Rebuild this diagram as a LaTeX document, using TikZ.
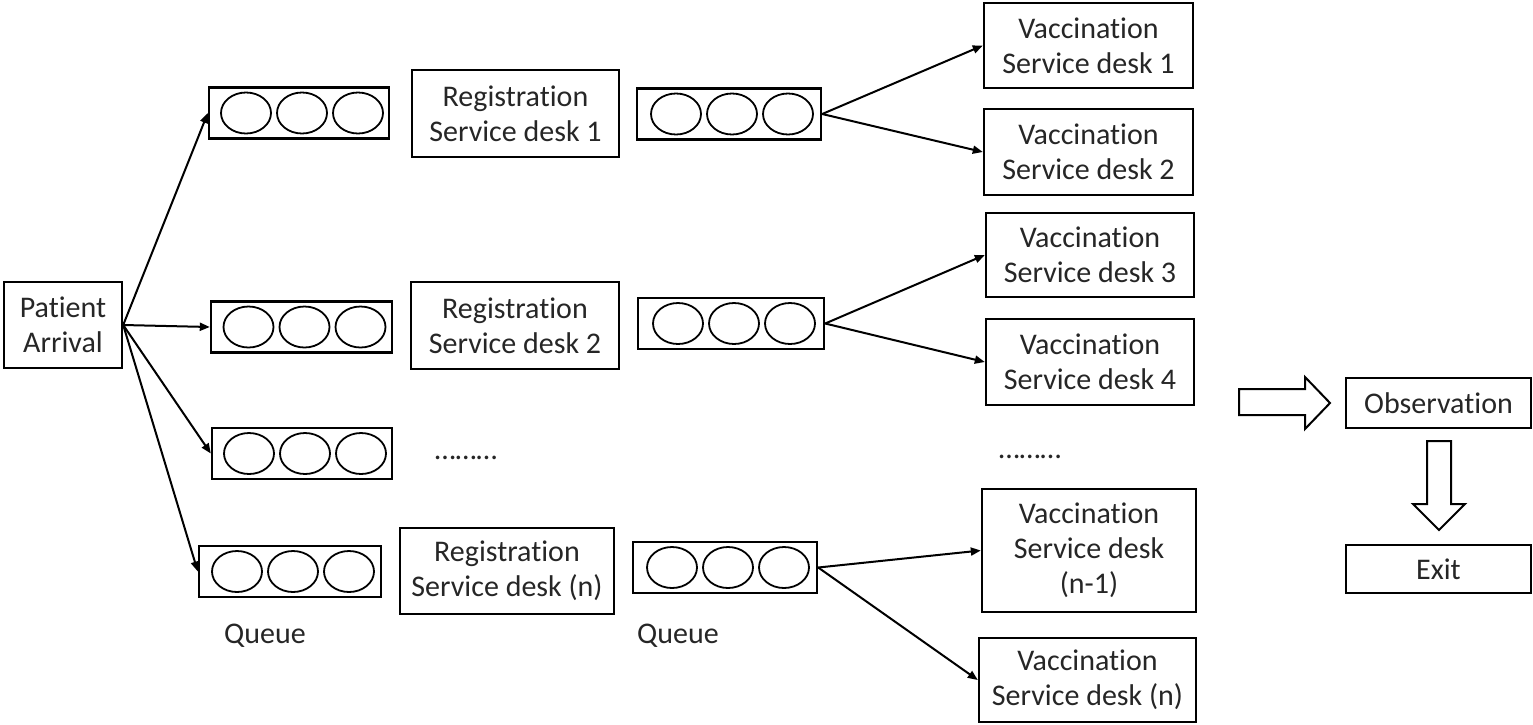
\documentclass[tikz,border=0pt]{standalone}
\usepackage{fontspec}
\setmainfont{Carlito}[Ligatures={NoCommon}]
\usetikzlibrary{arrows.meta}
\begin{document}
\begin{tikzpicture}[x=1pt,y=-1pt,
  every node/.style={font=\fontsize{30}{35}\selectfont, align=center, inner sep=0pt, text=black!85},
  box/.style={draw, line width=2.4pt, minimum width=#1},
  qbox/.style={draw, line width=2.4pt, minimum width=#1, minimum height=51pt},
  conn/.style={line width=2pt, -{Triangle[length=10pt,width=8pt]}},
  plain/.style={draw=none}
]
\useasboundingbox (0,0) rectangle (1533,724);

% Patient arrival
\node[box=118, minimum height=86] (pa) at (63,325) {Patient\\Arrival};

% first queues
\node[qbox=180] (q1) at (299,113) {};
\node[qbox=181] (q2) at (301.5,327) {};
\node[qbox=180] (q3) at (302,453.5) {};
\node[qbox=182] (q4) at (290,571.5) {};

% registration desks
\node[box=207, minimum height=87] (r1) at (515.5,113.5) {Registration\\Service desk 1};
\node[box=208, minimum height=87] (r2) at (515,325.5) {Registration\\Service desk 2};
\node[box=214, minimum height=86] (rn) at (507,571) {Registration\\Service desk (n)};
\node[plain] (d1) at (466,458) {………};

% second queues
\node[qbox=184] (m1) at (729,114) {};
\node[qbox=186] (m2) at (731,323.5) {};
\node[qbox=184] (mn) at (725,567.5) {};

% ellipses in queues
\foreach \q in {q1,q2,q3,q4,m1,m2,mn}{
  \foreach \dx in {-53,3,59}{
    \draw[line width=1.8pt] ([xshift=\dx pt]\q.center) ellipse [x radius=25pt, y radius=20.5pt];
  }
}

% queue labels
\node[plain] (ql1) at (265,636) {Queue};
\node[plain] (ql2) at (678,636) {Queue};

% vaccination desks
\node[box=209, minimum height=85] (v1) at (1088.5,45.5) {Vaccination\\Service desk 1};
\node[box=209, minimum height=86] (v2) at (1088.5,152) {Vaccination\\Service desk 2};
\node[box=208, minimum height=84] (v3) at (1090,255) {Vaccination\\Service desk 3};
\node[box=208, minimum height=86] (v4) at (1090,362) {Vaccination\\Service desk 4};
\node[plain] (d2) at (1030,457) {………};
\node[box=214, minimum height=123] (vn1) at (1089,550.5) {Vaccination\\Service desk\\(n-1)};
\node[box=217, minimum height=84] (vn) at (1087.5,680) {Vaccination\\Service desk (n)};

% observation and exit
\node[box=185, minimum height=50] (obs) at (1438.5,403) {Observation};
\node[box=185, minimum height=48] (exit) at (1438.5,569) {Exit};

% connectors
\foreach \t in {q1,q2,q3,q4}{ \draw[conn] (pa.east) -- (\t.west); }
\draw[conn] (m1.east) -- (v1.west);
\draw[conn] (m1.east) -- (v2.west);
\draw[conn] (m2.east) -- (v3.west);
\draw[conn] (m2.east) -- (v4.west);
\draw[conn] (mn.east) -- (vn1.west);
\draw[conn] (mn.east) -- (vn.west);

% block arrows
\draw[line width=2pt, line join=miter]
  (1239,389) -- (1305,389) -- (1305,377) -- (1330,403) -- (1305,429) -- (1305,415) -- (1239,415) -- cycle;
\draw[line width=2pt, line join=miter]
  (1427,441) -- (1451,441) -- (1451,504) -- (1465,504) -- (1439,530) -- (1413,504) -- (1427,504) -- cycle;
\end{tikzpicture}
\end{document}
